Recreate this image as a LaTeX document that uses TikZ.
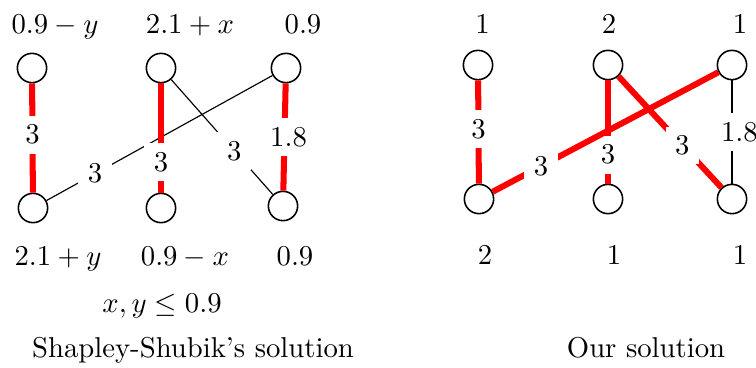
\documentclass[tikz,border=0pt]{standalone}
\usepackage{amssymb}
\begin{document}
\begin{tikzpicture}[x=0.3484pt,y=-0.3484pt,
  vtx/.style={circle,draw,line width=0.55pt,minimum size=10.2pt,inner sep=0pt},
  plain/.style={line width=0.4pt,black},
  hot/.style={line width=2.1pt,red},
  wlab/.style={fill=white,inner sep=3.33pt,text=black},
  txt/.style={anchor=base,inner sep=0pt}]
\useasboundingbox (0,0) rectangle (756,367);
% ---------- left diagram ----------
\node[vtx] (a1) at (32,68) {};
\node[vtx] (a2) at (161,68) {};
\node[vtx] (a3) at (286,68) {};
\node[vtx] (a4) at (33,208) {};
\node[vtx] (a5) at (161,208) {};
\node[vtx] (a6) at (283,206) {};
\draw[plain] (a4) -- node[wlab,pos=0.215]{$3$} (a3);
\draw[plain] (a2) -- node[wlab,pos=0.62]{$3$} (a6);
\draw[hot] (a1) -- node[wlab,pos=0.47]{$3$} (a4);
\draw[hot] (a2) -- node[wlab,pos=0.72]{$3$} (a5);
\draw[hot] (a3) -- node[wlab,pos=0.5,xshift=1.4pt]{$1.8$} (a6);
\node[txt] (ta1) at (55,33) {$0.9-y$};
\node[txt] (ta2) at (190,33) {$2.1+x$};
\node[txt] (ta3) at (303,33) {$0.9$};
\node[txt] (ta4) at (58,265) {$2.1+y$};
\node[txt] (ta5) at (185,265) {$0.9-x$};
\node[txt] (ta6) at (295,265) {$0.9$};
\node[txt] (cond) at (162,312) {$x,y\leq 0.9$};
\node[txt] (capa) at (193,357) {Shapley-Shubik's solution};
% ---------- right diagram ----------
\node[vtx] (b1) at (478,65) {};
\node[vtx] (b2) at (608,65) {};
\node[vtx] (b3) at (732,65) {};
\node[vtx] (b4) at (479,199) {};
\node[vtx] (b5) at (608,199) {};
\node[vtx] (b6) at (732,199) {};
\draw[plain] (b3) -- node[wlab,pos=0.5,xshift=2.6pt]{$1.8$} (b6);
\draw[hot] (b1) -- node[wlab,pos=0.47]{$3$} (b4);
\draw[hot] (b2) -- node[wlab,pos=0.72]{$3$} (b5);
\draw[hot] (b4) -- node[wlab,pos=0.215]{$3$} (b3);
\draw[hot] (b2) -- node[wlab,pos=0.62]{$3$} (b6);
\node[txt] (tb1) at (482.5,33) {$1$};
\node[txt] (tb2) at (609,33) {$2$};
\node[txt] (tb3) at (740,33) {$1$};
\node[txt] (tb4) at (485,264) {$2$};
\node[txt] (tb5) at (614,264) {$1$};
\node[txt] (tb6) at (740,264) {$1$};
\node[txt] (capb) at (646,357) {Our solution};
\end{tikzpicture}
\end{document}
